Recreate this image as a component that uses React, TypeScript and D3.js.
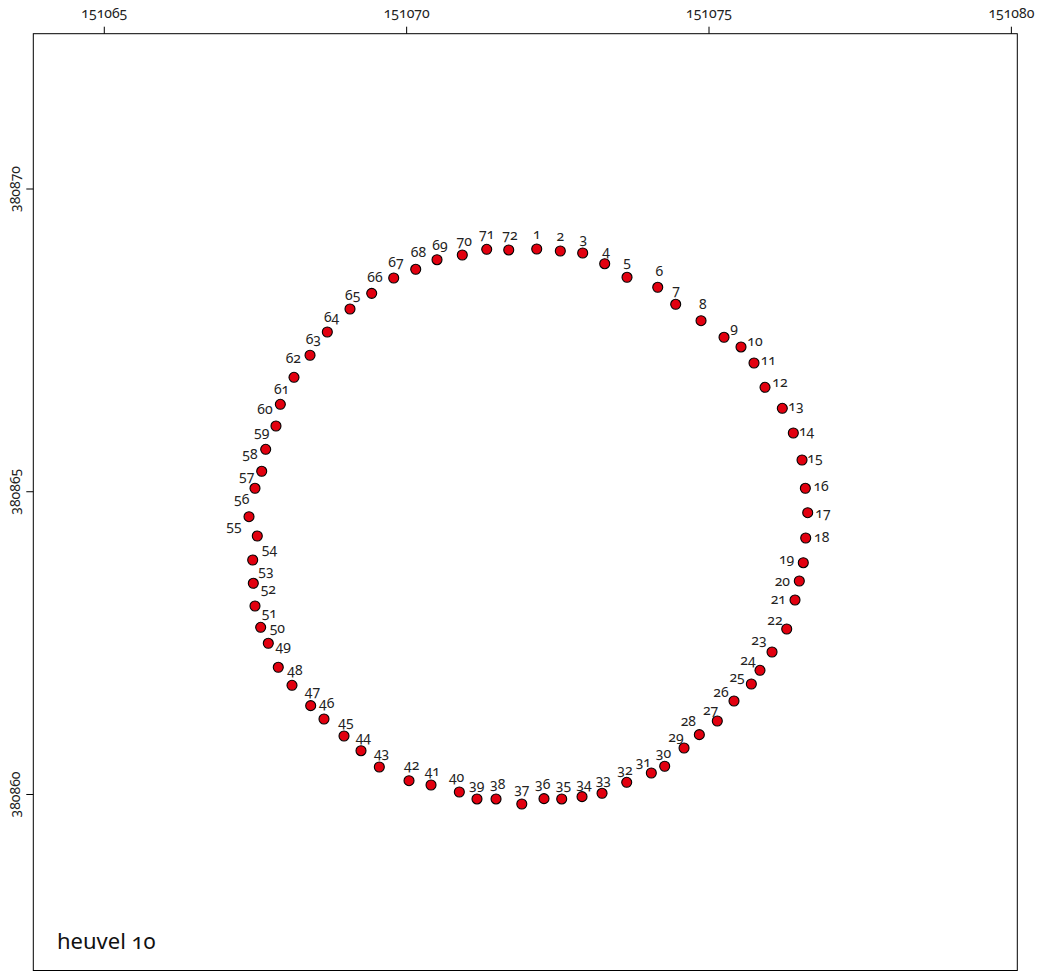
import React from "react";
import * as d3 from "d3";

const pointIds: number[] = Array.from({ length: 72 }, (_, i) => i + 1);

const eastings: number[] = [
  151072.151, 151072.541, 151072.911, 151073.275, 151073.644, 151074.152, 151074.449, 151074.868,
  151075.248, 151075.529, 151075.744, 151075.926, 151076.212, 151076.394, 151076.538, 151076.593,
  151076.632, 151076.599, 151076.559, 151076.493, 151076.422, 151076.285, 151076.042, 151075.843,
  151075.700, 151075.413, 151075.137, 151074.840, 151074.587, 151074.267, 151074.046, 151073.639,
  151073.231, 151072.900, 151072.564, 151072.271, 151071.904, 151071.478, 151071.163, 151070.871,
  151070.403, 151070.039, 151069.548, 151069.245, 151068.964, 151068.633, 151068.413, 151068.104,
  151067.877, 151067.712, 151067.586, 151067.492, 151067.464, 151067.454, 151067.530, 151067.393,
  151067.492, 151067.603, 151067.669, 151067.839, 151067.911, 151068.137, 151068.402, 151068.688,
  151069.063, 151069.422, 151069.786, 151070.150, 151070.502, 151070.920, 151071.324, 151071.688,
];

const northings: number[] = [
  380869.009, 380868.976, 380868.943, 380868.766, 380868.542, 380868.377, 380868.096, 380867.825,
  380867.551, 380867.391, 380867.126, 380866.725, 380866.378, 380865.970, 380865.524, 380865.057,
  380864.654, 380864.236, 380863.828, 380863.526, 380863.212, 380862.733, 380862.353, 380862.051,
  380861.825, 380861.544, 380861.214, 380860.988, 380860.768, 380860.466, 380860.355, 380860.201,
  380860.020, 380859.964, 380859.926, 380859.931, 380859.843, 380859.926, 380859.926, 380860.041,
  380860.157, 380860.228, 380860.454, 380860.723, 380860.966, 380861.247, 380861.467, 380861.803,
  380862.101, 380862.497, 380862.761, 380863.113, 380863.488, 380863.873, 380864.269, 380864.588,
  380865.057, 380865.338, 380865.701, 380866.086, 380866.444, 380866.890, 380867.254, 380867.638,
  380868.018, 380868.277, 380868.530, 380868.674, 380868.832, 380868.910, 380869.004, 380868.993,
];

const xTickValues: number[] = [151065, 151070, 151075, 151080];
const yTickValues: number[] = [380860, 380865, 380870];
const panelTitle = "heuvel 10";

// label placement offsets (px) relative to each point
const labelOffsets: [number, number][] = [
  [0, -16], [0, -16], [0.7, -14.7], [1.3, -13.7], [0, -15.7], [1.7, -16.7], [0.3, -14.3], [1.7, -17.3],
  [10, -10], [14, -6.3], [14.3, -3.7], [15, -5.7], [13.7, -3.3], [13.3, -3], [13, -2.7], [15.7, -2.7],
  [15.3, 0], [16, -2], [-16.7, -4], [-17, -0.3], [-16.7, -1.3], [-11.7, -9.7], [-13, -12.7], [-12, -11],
  [-14.3, -7.3], [-13, -10], [-6.7, -11.7], [-11, -13.7], [-8, -11.3], [-1.3, -13.7], [-8, -11.7], [-1.7, -13],
  [1.3, -14], [2, -13.3], [1.7, -14], [-1.3, -15.3], [0, -15], [1.7, -15.7], [-0.3, -14], [-2.7, -15.3],
  [1.3, -14.3], [2.7, -15.7], [2.3, -14.3], [2.3, -14.7], [2, -14.3], [2.7, -16.3], [1.7, -15], [3, -16],
  [5, -21.3], [9, -16], [8.7, -15.2], [13.3, -17.2], [12.7, -12.7], [16.7, -11.7], [-23.3, -11], [-7.3, -18.3],
  [-8.3, -12.3], [-11.7, -18], [-4, -17.7], [-11, -17], [1.3, -16], [-0.7, -19.7], [3.3, -17], [4.3, -15.3],
  [2.7, -15], [3.3, -16.7], [2.3, -16.3], [2.7, -17.7], [3, -15.7], [2, -15], [0, -16], [1.3, -15],
];

const W = 1040;
const H = 974;
const left = 33.3, right = 1017.3, top = 33.7, bottom = 970.5;
const font = "'Noto Sans', 'Open Sans', sans-serif";

export default function App() {
  const x = d3.scaleLinear().domain([151063.826, 151080.098]).range([left, right]);
  const y = d3.scaleLinear().domain([380857.093, 380872.565]).range([bottom, top]);
  const numStyle: React.CSSProperties = { fontVariantNumeric: "oldstyle-nums", fontFeatureSettings: "'onum' 1" };

  return (
    <svg width={W} height={H} style={{ position: "absolute", left: 0, top: 0, background: "#fff" }}
      fontFamily={font}>
      <rect x={left} y={top} width={right - left} height={bottom - top} fill="none" stroke="#000" strokeWidth={1} />
      {xTickValues.map((v) => (
        <g key={"x" + v}>
          <line x1={x(v)} x2={x(v)} y1={top} y2={top - 7} stroke="#000" />
          <text x={x(v)} y={18} textAnchor="middle" fontSize={14} fill="#222" style={numStyle}>{v}</text>
        </g>
      ))}
      {yTickValues.map((v) => (
        <g key={"y" + v}>
          <line x1={left} x2={left - 7} y1={y(v)} y2={y(v)} stroke="#000" />
          <text transform={`translate(20,${y(v)}) rotate(-90)`} textAnchor="middle" fontSize={14} fill="#222" style={numStyle}>{v}</text>
        </g>
      ))}
      {pointIds.map((id, i) => (
        <circle key={"p" + id} cx={x(eastings[i])} cy={y(northings[i])} r={5} fill="#e2000f" stroke="#000" strokeWidth={1.1} />
      ))}
      {pointIds.map((id, i) => (
        <text key={"l" + id} x={x(eastings[i]) + labelOffsets[i][0]} y={y(northings[i]) + labelOffsets[i][1]}
          textAnchor="middle" dominantBaseline="central" fontSize={14} fill="#222" style={numStyle}>{id}</text>
      ))}
      <text x={57} y={949} fontSize={22} fill="#111" style={numStyle}>{panelTitle}</text>
    </svg>
  );
}
